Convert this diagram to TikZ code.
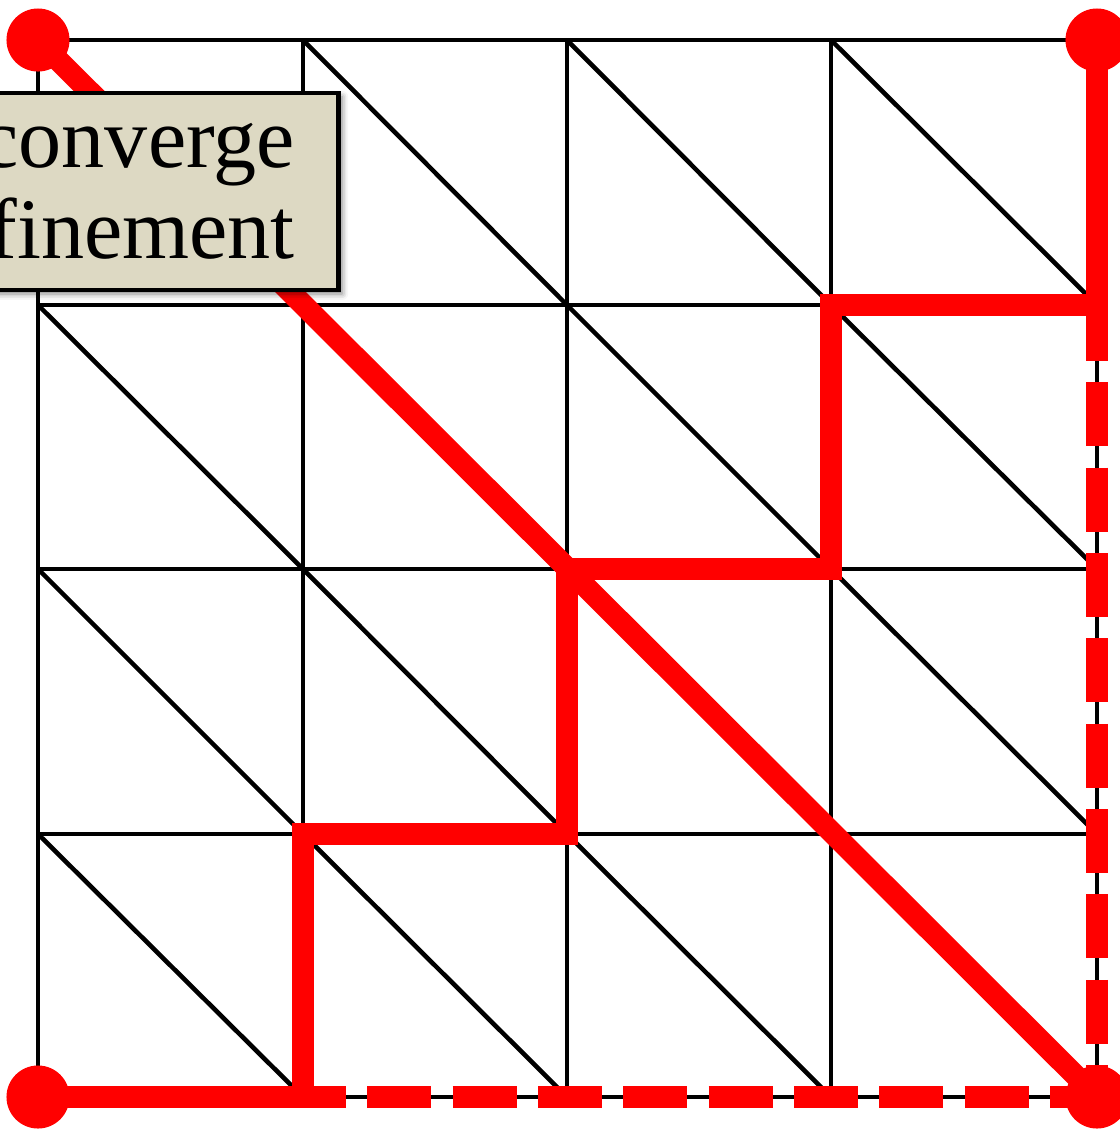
\documentclass[tikz,border=0pt]{standalone}
\usepackage{fontspec}
\setmainfont{Liberation Serif}
\usetikzlibrary{shadows.blur}
\definecolor{notefill}{RGB}{221,217,195}
\tikzset{
    mesh/.style={line width=1.3pt, black},
    redpath/.style={line width=6.2pt, red},
    reddash/.style={redpath, dash pattern=on 0.64cm off 0.213cm},
    corner/.style={circle, fill=red, minimum size=0.63cm, inner sep=0pt},
    notebox/.style={draw, line width=1.3pt, fill=notefill, text width=6cm, align=right,
        inner xsep=0.435cm, minimum height=1.97cm,
        font=\fontsize{24.5}{26}\selectfont,
        blur shadow={shadow xshift=0.04cm, shadow yshift=-0.04cm, shadow blur radius=0.06cm, shadow opacity=50}}
}
\begin{document}
\begin{tikzpicture}[x=0.01cm, y=-0.01cm]
    \useasboundingbox (0,0) rectangle (1120,1129);

    % Vertices
    \foreach \i/\x in {0/38,1/303,2/567,3/831,4/1097} {
        \foreach \j/\y in {0/40,1/305,2/569,3/834,4/1097} {
            \coordinate (p\i\j) at (\x,\y);
        }
    }

    % Grid
    \foreach \i in {0,...,4} {
        \draw[mesh] (p\i0) -- (p\i4);
        \draw[mesh] (p0\i) -- (p4\i);
    }

    % Diagonals
    \foreach \i [evaluate=\i as \ii using int(\i+1)] in {0,...,3} {
        \foreach \j [evaluate=\j as \jj using int(\j+1)] in {0,...,3} {
            \draw[mesh] (p\i\j) -- (p\ii\jj);
        }
    }

    % Dashed boundary
    \draw[reddash, dash phase=0.21cm] (p14) -- (p44);
    \draw[reddash, dash phase=0.08cm] (p41) -- (p44);

    % Staircase
    \draw[redpath] (p04) -- (p14) -- (p13) -- (p23) -- (p22) -- (p32) -- (p31) -- (p41) -- (p40);

    % Straight path
    \draw[redpath] (p00) -- (p44);

    % Corners
    \foreach \c in {00,40,04,44} {
        \node[corner] (c\c) at (p\c) {};
    }

    % Label
    \node[notebox, anchor=north east] (note) at (340.5,90.5) {converge\\finement};
\end{tikzpicture}
\end{document}
